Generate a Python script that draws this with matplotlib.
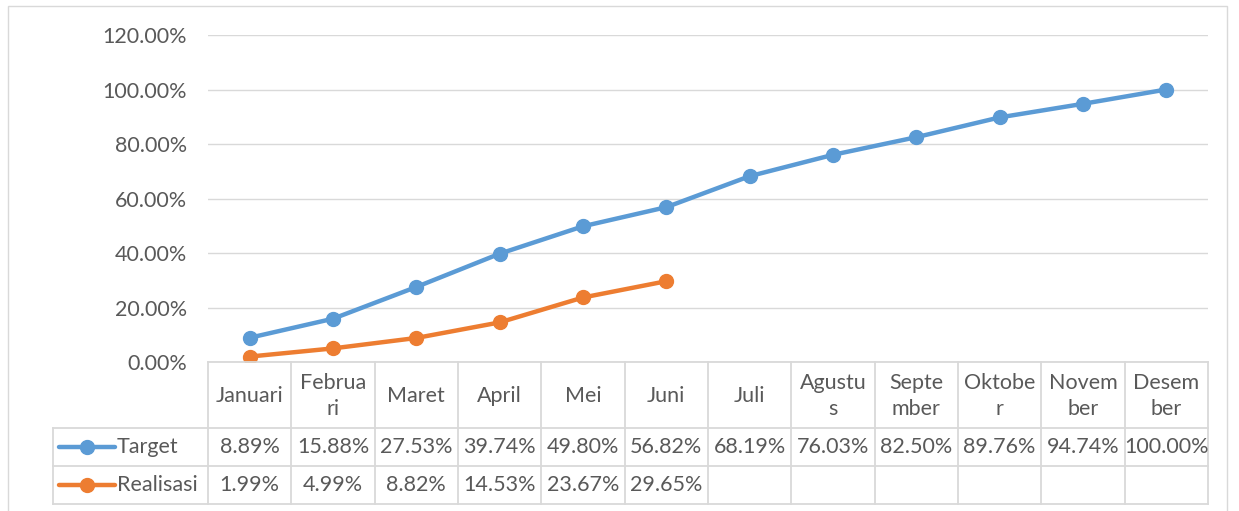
import numpy as np
import matplotlib
matplotlib.use("Agg")
from matplotlib import pyplot as plt
from matplotlib.patches import Rectangle

# data
bulan = ["Januari", "Februa\nri", "Maret", "April", "Mei", "Juni", "Juli",
         "Agustu\ns", "Septe\nmber", "Oktobe\nr", "Novem\nber", "Desem\nber"]
target = [8.89, 15.88, 27.53, 39.74, 49.80, 56.82, 68.19, 76.03, 82.50, 89.76, 94.74, 100.00]
realisasi = [1.99, 4.99, 8.82, 14.53, 23.67, 29.65]
yticks = [0, 20, 40, 60, 80, 100, 120]

blue = "#5b9bd5"
orange = "#ed7d31"
grid = "#d9d9d9"
txt = "#595959"
fs = 15.5

plt.rcParams['font.family'] = ['Lato', 'DejaVu Sans']

W, H = 1239, 511
fig = plt.figure(figsize=(W / 100, H / 100), dpi=100)

def fx(px):
    return px / W

def fy(py):
    return 1 - py / H

# outer chart border
fig.patches.append(Rectangle((fx(8), fy(520)), fx(1227) - fx(8), fy(6) - fy(520),
                             transform=fig.transFigure, fill=False, ec=grid, lw=1))

left, right, top, bot = 208, 1208, 35, 362
ax = fig.add_axes([fx(left), fy(bot), fx(right) - fx(left), fy(top) - fy(bot)])
x = np.arange(len(bulan))
ax.plot(x, target, color=blue, lw=3.2, marker="o", ms=10)
ax.plot(x[:len(realisasi)], realisasi, color=orange, lw=3.2, marker="o", ms=10)
ax.set_xlim(-0.5, len(bulan) - 0.5)
ax.set_ylim(0, 120)
ax.set_yticks(yticks)
ax.set_yticklabels(["%.2f%%" % v for v in yticks], color=txt, fontsize=fs)
ax.tick_params(axis="y", length=0, pad=15)
ax.set_xticks([])
ax.yaxis.grid(True, color=grid, lw=1)
ax.set_axisbelow(True)
for s in ax.spines.values():
    s.set_visible(False)

# data table below the axes
tb_top, tb_bot = 362, 504
tab = fig.add_axes([fx(left), fy(tb_bot), fx(right) - fx(left), fy(tb_top) - fy(tb_bot)])
tab.set_xlim(-0.5, len(bulan) - 0.5)
tab.set_ylim(tb_bot - tb_top, 0)
tab.axis("off")
unit = (right - left) / len(bulan)
leg_l = -0.5 - (left - 53) / unit
rows = [0, 66, 104, 142]

kw = dict(color=grid, lw=1.3, clip_on=False)
# horizontal lines
tab.plot([-0.5, len(bulan) - 0.5], [rows[0]] * 2, **kw)
for r in rows[1:]:
    tab.plot([leg_l, len(bulan) - 0.5], [r, r], **kw)
# vertical lines
tab.plot([leg_l, leg_l], [rows[1], rows[3]], **kw)
for i in range(len(bulan) + 1):
    tab.plot([i - 0.5, i - 0.5], [rows[0], rows[3]], **kw)

for i, b in enumerate(bulan):
    tab.text(i, (rows[0] + rows[1]) / 2 + 1, b, ha="center", va="center",
             color=txt, fontsize=fs, linespacing=1.4)
for i, v in enumerate(target):
    tab.text(i, (rows[1] + rows[2]) / 2, "%.2f%%" % v, ha="center", va="center",
             color=txt, fontsize=fs)
for i, v in enumerate(realisasi):
    tab.text(i, (rows[2] + rows[3]) / 2, "%.2f%%" % v, ha="center", va="center",
             color=txt, fontsize=fs)

# legend keys inside table
for name, col, r in [("Target", blue, 1), ("Realisasi", orange, 2)]:
    yc = (rows[r] + rows[r + 1]) / 2
    x0 = leg_l + 6 / unit
    x1 = leg_l + 62 / unit
    tab.plot([x0, x1], [yc, yc], color=col, lw=3.2, clip_on=False, solid_capstyle="round")
    tab.plot([(x0 + x1) / 2], [yc], "o", color=col, ms=10, clip_on=False)
    tab.text(x1 + 2 / unit, yc, name, ha="left", va="center", color=txt, fontsize=fs)

fig.savefig("out.png", dpi=100)
